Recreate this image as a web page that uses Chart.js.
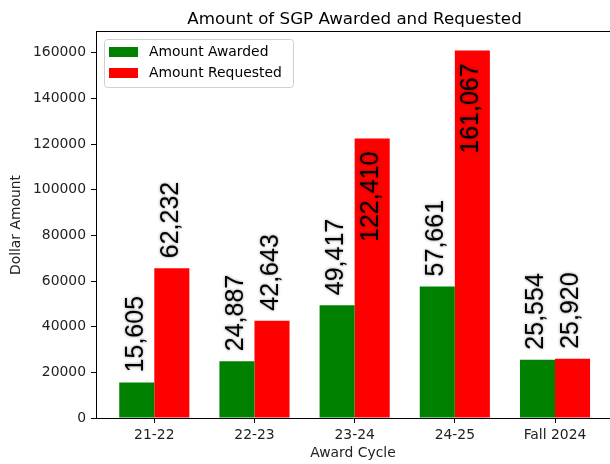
<!DOCTYPE html>
<html>
<head>
<meta charset="utf-8">
<script src="https://cdn.jsdelivr.net/npm/chart.js@4/dist/chart.umd.min.js"></script>
<style>
  html, body { margin: 0; padding: 0; background: #fff; }
  #wrap { width: 610px; height: 464px; }
</style>
</head>
<body>
<div id="wrap"><canvas id="chart" width="610" height="464"></canvas></div>
<script>
const cycles = ['21-22', '22-23', '23-24', '24-25', 'Fall 2024'];
const awarded = [15605, 24887, 49417, 57661, 25554];
const requested = [65600, 42643, 122410, 161067, 25920];
const awardedLabels = ['15,605', '24,887', '49,417', '57,661', '25,554'];
const requestedLabels = ['62,232', '42,643', '122,410', '161,067', '25,920'];
const yTicks = [0, 20000, 40000, 60000, 80000, 100000, 120000, 140000, 160000];

const tickFont = { family: '"DejaVu Sans", sans-serif', size: 13.9 };
const barLabels = [awardedLabels, requestedLabels];

const ctx = document.getElementById('chart').getContext('2d');

// labels above (or inside, for tall bars) each bar, rotated
const valueLabels = {
    id: 'valueLabels',
    afterDatasetsDraw(chart) {
        const c = chart.ctx;
        chart.data.datasets.forEach((ds, di) => {
            const meta = chart.getDatasetMeta(di);
            meta.data.forEach((bar, i) => {
                const text = barLabels[di][i];
                c.save();
                c.font = '25px "Liberation Sans", Arial, sans-serif';
                const w = c.measureText(text).width;
                let cy;
                if (ds.data[i].y > 100000) {
                    cy = bar.y + 13 + w / 2;
                } else {
                    cy = bar.y - 10 - w / 2;
                }
                c.translate(bar.x - 1, cy);
                c.rotate(-Math.PI / 2);
                c.textAlign = 'center';
                c.textBaseline = 'middle';
                c.shadowColor = 'rgba(0,0,0,0.45)';
                c.shadowBlur = 3;
                c.fillStyle = '#000';
                c.fillText(text, 0, 0);
                c.restore();
            });
        });
    }
};

// title, top spine and legend box in matplotlib style
const decorations = {
    id: 'decorations',
    afterDraw(chart) {
        const c = chart.ctx;
        const area = chart.chartArea;
        c.save();
        c.strokeStyle = '#000';
        c.lineWidth = 1;
        c.beginPath();
        c.moveTo(area.left, Math.round(area.top) - 0.5);
        c.lineTo(area.right, Math.round(area.top) - 0.5);
        c.stroke();

        c.fillStyle = '#000';
        c.font = '16.7px "DejaVu Sans", sans-serif';
        c.textAlign = 'center';
        c.textBaseline = 'alphabetic';
        c.fillText('Amount of SGP Awarded and Requested', 354.5, 24);

        // legend
        const lx = 104.5, ly = 39.5, lw = 189, lh = 48, r = 3;
        c.beginPath();
        c.moveTo(lx + r, ly);
        c.arcTo(lx + lw, ly, lx + lw, ly + lh, r);
        c.arcTo(lx + lw, ly + lh, lx, ly + lh, r);
        c.arcTo(lx, ly + lh, lx, ly, r);
        c.arcTo(lx, ly, lx + lw, ly, r);
        c.closePath();
        c.fillStyle = 'rgba(255,255,255,0.8)';
        c.fill();
        c.strokeStyle = '#d0d0d0';
        c.stroke();

        c.font = '13.9px "DejaVu Sans", sans-serif';
        c.textAlign = 'left';
        c.textBaseline = 'middle';
        chart.data.datasets.forEach((ds, di) => {
            const y = 47 + di * 21;
            c.fillStyle = ds.backgroundColor;
            c.fillRect(109, y, 29, 10);
            c.fillStyle = '#000';
            c.fillText(ds.label, 149, y + 5.5);
        });
        c.restore();
    }
};

new Chart(ctx, {
    type: 'bar',
    data: {
        datasets: [
            {
                label: 'Amount Awarded',
                data: awarded.map((v, i) => ({ x: i, y: v })),
                backgroundColor: '#008000',
                borderWidth: 0
            },
            {
                label: 'Amount Requested',
                data: requested.map((v, i) => ({ x: i, y: v })),
                backgroundColor: '#ff0000',
                borderWidth: 0
            }
        ]
    },
    options: {
        responsive: false,
        animation: false,
        categoryPercentage: 0.7,
        barPercentage: 1.0,
        layout: { padding: { top: 32, right: 0, left: 0, bottom: 0 } },
        plugins: {
            legend: { display: false },
            title: { display: false },
            tooltip: { enabled: false }
        },
        scales: {
            x: {
                type: 'linear',
                min: -0.582,
                max: 4.549,
                offset: false,
                grid: {
                    offset: false,
                    drawOnChartArea: false,
                    color: '#000',
                    tickLength: 5
                },
                border: { display: true, color: '#000', width: 1 },
                afterBuildTicks: s => { s.ticks = cycles.map((_, i) => ({ value: i })); },
                afterFit: s => { s.height = 46; },
                ticks: {
                    color: '#222',
                    font: tickFont,
                    padding: 4,
                    maxRotation: 0,
                    autoSkip: false,
                    callback: v => cycles[v]
                },
                title: {
                    display: true,
                    text: 'Award Cycle',
                    color: '#222',
                    font: tickFont,
                    padding: { top: 0, bottom: 2 }
                }
            },
            y: {
                min: 0,
                max: 169120,
                grid: {
                    drawOnChartArea: false,
                    color: '#000',
                    tickLength: 5
                },
                border: { display: true, color: '#000', width: 1 },
                afterBuildTicks: s => { s.ticks = yTicks.map(v => ({ value: v })); },
                afterFit: s => { s.width = 96; },
                ticks: {
                    color: '#222',
                    font: tickFont,
                    padding: 5,
                    callback: v => String(v)
                },
                title: {
                    display: true,
                    text: 'Dollar Amount',
                    color: '#222',
                    font: tickFont,
                    padding: { top: 8, bottom: 0 }
                }
            }
        }
    },
    plugins: [valueLabels, decorations]
});
</script>
</body>
</html>
